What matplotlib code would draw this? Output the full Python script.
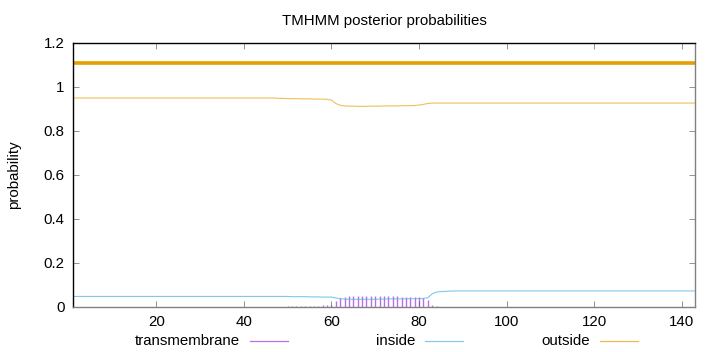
import numpy as np
import matplotlib
matplotlib.use("Agg")
from matplotlib import pyplot as plt
from matplotlib.lines import Line2D
from matplotlib.ticker import FuncFormatter

plt.rcParams['font.family'] = ['Liberation Sans', 'DejaVu Sans']

seq_len = 143
positions = list(range(1, seq_len + 1))

# transmembrane posterior (impulses), residues 48..91, zero elsewhere
tm_start = 48
tm_values = [0.002, 0.002, 0.003, 0.003, 0.004, 0.004, 0.005, 0.005, 0.006,
             0.006, 0.007, 0.008, 0.011, 0.029, 0.041, 0.047, 0.050, 0.051,
             0.052, 0.052, 0.052, 0.051, 0.051, 0.050, 0.049, 0.048, 0.048,
             0.048, 0.047, 0.047, 0.047, 0.046, 0.045, 0.041, 0.030, 0.007,
             0.003, 0.002, 0.002, 0.002, 0.001, 0.001, 0.001, 0.001]

# outside posterior, segment values
outside_head = 0.950          # residues 1..47
outside_mid = [0.948, 0.948, 0.947, 0.947, 0.947, 0.946, 0.946, 0.946, 0.945,
               0.945, 0.945, 0.944, 0.940, 0.925, 0.917, 0.914, 0.913, 0.913,
               0.912, 0.912, 0.912, 0.913, 0.913, 0.913, 0.914, 0.914, 0.914,
               0.914, 0.915, 0.915, 0.915, 0.916, 0.918, 0.921, 0.925]  # 48..82
outside_tail = 0.927          # residues 83..143

# inside posterior
inside_head = 0.048
inside_mid = [0.048, 0.048, 0.048, 0.047, 0.047, 0.047, 0.047, 0.046, 0.046,
              0.046, 0.045, 0.045, 0.045, 0.041, 0.038, 0.036, 0.035, 0.035,
              0.035, 0.035, 0.035, 0.035, 0.035, 0.036, 0.036, 0.037, 0.037,
              0.037, 0.037, 0.037, 0.038, 0.038, 0.038, 0.039, 0.042, 0.060,
              0.068, 0.070, 0.071, 0.072]  # 48..87
inside_tail = 0.073

topology_level = 1.11

tm = [0.0] * seq_len
for i, v in enumerate(tm_values):
    tm[tm_start - 1 + i] = v

outside = [outside_head] * 47 + outside_mid
outside += [outside_tail] * (seq_len - len(outside))
inside = [inside_head] * 47 + inside_mid
inside += [inside_tail] * (seq_len - len(inside))

fs = 10.8

fig = plt.figure(figsize=(7.2, 3.52), dpi=100)
ax = fig.add_axes([73 / 720, 1 - 307 / 352, 622 / 720, 264 / 352])

ax.vlines(positions, 0, tm, color='#a030d8', linewidth=1.0, alpha=0.7)
ax.plot(positions, inside, color='#56b4e9', linewidth=0.8, alpha=0.75)
ax.plot(positions, outside, color='#e69f00', linewidth=0.8, alpha=0.65)
ax.plot([1, seq_len], [topology_level, topology_level], color='#e69f00',
        linewidth=2.6, solid_capstyle='butt')

ax.set_xlim(1, seq_len)
ax.set_ylim(0, 1.2)
ax.set_xticks([20, 40, 60, 80, 100, 120, 140])
ax.set_yticks([0, 0.2, 0.4, 0.6, 0.8, 1.0, 1.2])
ax.yaxis.set_major_formatter(FuncFormatter(lambda v, p: '%g' % v))
ax.tick_params(direction='in', top=True, right=True, length=4, width=0.6,
               labelsize=fs, colors='#808080', labelcolor='black', pad=6)
ax.spines['left'].set_color('black')
ax.spines['top'].set_color('black')
ax.spines['bottom'].set_color('#808080')
ax.spines['right'].set_color('#808080')
for s in ax.spines.values():
    s.set_linewidth(1.0)

ax.set_ylabel('probability', fontsize=fs, labelpad=16)
ax.set_title('TMHMM posterior probabilities', fontsize=fs, pad=13)

# gnuplot-style legend under the plot
legend_items = [('transmembrane', '#a030d8', 240),
                ('inside', '#56b4e9', 415),
                ('outside', '#e69f00', 590)]
for label, color, xr in legend_items:
    fig.text(xr / 720, 1 - 341 / 352, label, ha='right', va='center',
             fontsize=fs)
    fig.add_artist(Line2D([(xr + 10) / 720, (xr + 48) / 720],
                          [1 - 341 / 352, 1 - 341 / 352],
                          color=color, linewidth=0.9, alpha=0.7))

fig.savefig('out.png', dpi=100)
